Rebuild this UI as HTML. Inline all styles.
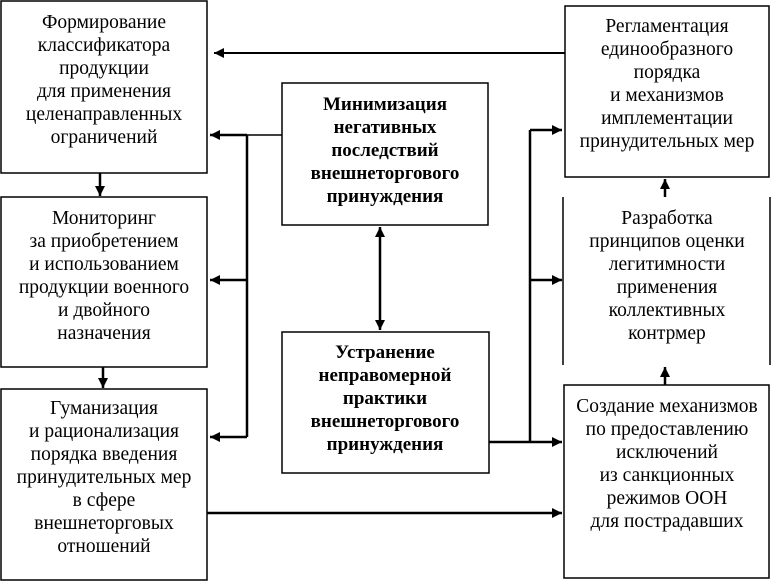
<!DOCTYPE html>
<html><head><meta charset="utf-8"><style>body{margin:0;background:#fff}svg{display:block}</style></head><body>
<svg width="772" height="583" viewBox="0 0 772 583" xmlns="http://www.w3.org/2000/svg" font-family="Liberation Serif, serif" font-size="19.5" text-anchor="middle" fill="#000">
<defs><marker id="a" viewBox="0 0 10 10" refX="10" refY="5" markerWidth="10" markerHeight="10" markerUnits="userSpaceOnUse" orient="auto-start-reverse"><path d="M0,0L10,5L0,10z" fill="#000"/></marker></defs>
<g fill="none" stroke="#000" stroke-width="1.5">
<rect x="1" y="1" width="206" height="172"/>
<rect x="1" y="197" width="206" height="170"/>
<rect x="1" y="389" width="206" height="191"/>
<rect x="282" y="83" width="206" height="142"/>
<rect x="282" y="332" width="207" height="141"/>
<rect x="565" y="6" width="204" height="171"/>
<line x1="563" y1="197" x2="563" y2="365"/><line x1="770" y1="197" x2="770" y2="365"/>
<rect x="564" y="385" width="205" height="193"/>
</g>
<g stroke="#000" stroke-width="2.5" fill="none">
<line x1="565" y1="53" x2="214" y2="53" stroke-width="2" marker-end="url(#a)"/>
<line x1="282" y1="135" x2="247" y2="135" stroke-width="1.5"/>
<line x1="247" y1="135" x2="247" y2="437"/>
<line x1="247" y1="135" x2="210" y2="135" marker-end="url(#a)"/>
<line x1="247" y1="280" x2="210" y2="280" marker-end="url(#a)"/>
<line x1="247" y1="437" x2="210" y2="437" marker-end="url(#a)"/>
<line x1="380" y1="227" x2="380" y2="330" marker-start="url(#a)" marker-end="url(#a)"/>
<line x1="489" y1="442" x2="530" y2="442"/>
<line x1="530" y1="130" x2="530" y2="442"/>
<line x1="530" y1="130" x2="562" y2="130" marker-end="url(#a)"/>
<line x1="530" y1="280" x2="562" y2="280" marker-end="url(#a)"/>
<line x1="530" y1="442" x2="562" y2="442" marker-end="url(#a)"/>
<line x1="207" y1="513" x2="562" y2="513" marker-end="url(#a)"/>
<line x1="665" y1="197" x2="665" y2="179" marker-end="url(#a)"/>
<line x1="665" y1="385" x2="665" y2="367" marker-end="url(#a)"/>
<line x1="100" y1="173" x2="100" y2="196" marker-end="url(#a)"/>
<line x1="103" y1="367" x2="103" y2="388" marker-end="url(#a)"/>
</g>
<text x="104" y="28">Формирование</text><text x="104" y="51">классификатора</text><text x="104" y="74">продукции</text><text x="104" y="97">для применения</text><text x="104" y="120">целенаправленных</text><text x="104" y="143">ограничений</text>
<text x="104" y="224">Мониторинг</text><text x="104" y="247">за приобретением</text><text x="104" y="270">и использованием</text><text x="104" y="293">продукции военного</text><text x="104" y="316">и двойного</text><text x="104" y="339">назначения</text>
<text x="104" y="414">Гуманизация</text><text x="104" y="437">и рационализация</text><text x="104" y="460">порядка введения</text><text x="104" y="483">принудительных мер</text><text x="104" y="506">в сфере</text><text x="104" y="529">внешнеторговых</text><text x="104" y="552">отношений</text>
<g font-weight="bold" font-size="19">
<text x="385" y="110">Минимизация</text><text x="385" y="133">негативных</text><text x="385" y="156">последствий</text><text x="385" y="179">внешнеторгового</text><text x="385" y="202">принуждения</text>
<text x="385" y="358">Устранение</text><text x="385" y="381">неправомерной</text><text x="385" y="404">практики</text><text x="385" y="427">внешнеторгового</text><text x="385" y="450">принуждения</text>
</g>
<text x="667" y="32">Регламентация</text><text x="667" y="55">единообразного</text><text x="667" y="78">порядка</text><text x="667" y="101">и механизмов</text><text x="667" y="124">имплементации</text><text x="667" y="147">принудительных мер</text>
<text x="667" y="224">Разработка</text><text x="667" y="247">принципов оценки</text><text x="667" y="270">легитимности</text><text x="667" y="293">применения</text><text x="667" y="316">коллективных</text><text x="667" y="339">контрмер</text>
<text x="667" y="412">Создание механизмов</text><text x="667" y="435">по предоставлению</text><text x="667" y="458">исключений</text><text x="667" y="481">из санкционных</text><text x="667" y="504">режимов ООН</text><text x="667" y="527">для пострадавших</text>
</svg>
</body></html>
